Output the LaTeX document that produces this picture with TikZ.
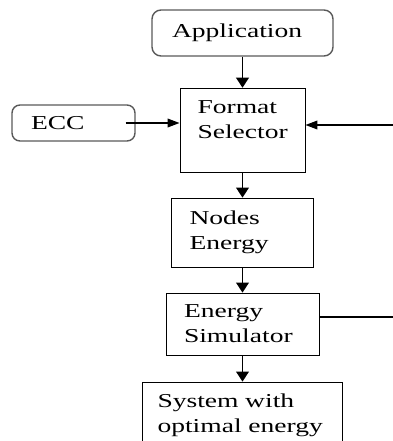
\documentclass[tikz,border=0pt]{standalone}
\usepackage{fontspec}
\setmainfont{Liberation Serif}[FakeStretch=1.4]
\usetikzlibrary{arrows.meta, positioning}
\newdimen\px
\px=0.025cm

\begin{document}
\begin{tikzpicture}[
    x=0.025cm, y=-0.025cm,
    % Core box styling
    base/.style={
        draw,
        align=left,
        font=\fontsize{14}{17.8}\selectfont,
        line width=0.7pt,
        inner xsep=18\px,
        inner ysep=0pt
    },
    soft/.style={base, draw=black!65, line width=1pt, rounded corners=9\px},
    block/.style={base},
    % Connector helpers
    varrow/.style={-{Triangle[length=2.5mm, width=3.2mm]}, line width=0.9pt},
    harrow/.style={-{Triangle[length=3mm, width=2.2mm]}, line width=0.9pt}
]
    \useasboundingbox (0,0) rectangle (393,441);

    % ==========================================
    % 1. MAIN VERTICAL CHAIN
    % ==========================================
    \node[soft, text width=141\px, inner xsep=20\px, minimum height=46\px] (app) at (242.5,33) {Application};

    \node[block, below=31\px of app, text width=90\px, inner xsep=17.5\px, inner ysep=12\px] (fs)
        {Format\\Selector\rule[-22\px]{0pt}{22\px}};

    \node[block, below=25\px of fs, text width=106\px, minimum height=69\px] (nodes) {Nodes\\Energy};

    \node[block, below=25\px of nodes, text width=117\px, minimum height=62\px] (sim) {Energy\\Simulator};

    \node[block, below=26\px of sim, text width=170\px, inner xsep=15\px, minimum height=66\px] (sys) {System with\\optimal energy};

    % ==========================================
    % 2. SIDE INPUTS
    % ==========================================
    \node[soft, rounded corners=8\px, text width=85\px, inner xsep=19\px, minimum height=36\px] (ecc) at (73.5,123) {ECC};

    \coordinate (fsin) at (393,125);
    \coordinate (simout) at (393,317);

    % Connections
    \draw[varrow] (app) -- (fs);
    \draw[varrow] (fs) -- (nodes);
    \draw[varrow] (nodes) -- (sim);
    \draw[varrow] (sim) -- (sys);
    \draw[harrow] ([xshift=-10\px]ecc.east) -- (ecc.east -| fs.west);
    \draw[harrow] (fsin) -- (fsin -| fs.east);
    \draw[line width=0.9pt] (simout -| sim.east) -- (simout);

\end{tikzpicture}
\end{document}
